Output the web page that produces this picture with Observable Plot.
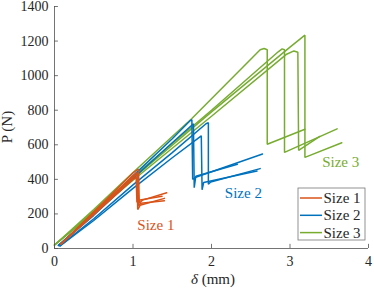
<!DOCTYPE html>
<html><head><meta charset="utf-8">
<script src="https://cdn.jsdelivr.net/npm/d3@7"></script>
<script src="https://cdn.jsdelivr.net/npm/@observablehq/plot@0.6"></script>
<style>
body{margin:0;background:#fff}
#chart{position:relative;width:374px;height:292px}
#chart svg text{font-family:"Liberation Serif","Times New Roman",serif !important}
</style>
</head><body><div id="chart"></div>
<script>
const seriesNames = ["Size 1", "Size 2", "Size 3"];
const seriesColors = ["#D95319", "#0072BD", "#77AC30"];
const xTicks = [0, 1, 2, 3, 4];
const yTicks = [0, 200, 400, 600, 800, 1000, 1200, 1400];
const xTitle = ["δ", " (mm)"];
const yTitle = "P (N)";

// Size 1 specimens: [δ (mm), P (N)]
const size1_a = [[0.08,25],[0.5,212],[1.0,437],[1.07,460],[1.08,262],[1.12,280],[1.43,322]];
const size1_b = [[0.08,25],[0.5,205],[1.0,420],[1.05,440],[1.06,225],[1.09,250],[1.40,290]];
const size1_c = [[0.08,25],[0.5,200],[1.0,410],[1.06,430],[1.07,248],[1.10,262],[1.40,276]];
const size1_d = [[0.08,25],[0.5,195],[1.0,400],[1.04,412],[1.05,268],[1.09,280],[1.37,302]];
// Size 2 specimens
const size2_a = [[0.05,18],[0.5,200],[1.0,420],[1.5,635],[1.73,740],[1.75,745],[1.76,400],[1.80,412],[2.65,547]];
const size2_b = [[0.05,18],[0.5,192],[1.0,405],[1.5,612],[1.77,722],[1.78,352],[1.80,418],[2.33,487]];
const size2_c = [[0.07,15],[0.5,172],[1.0,368],[1.5,555],[1.93,722],[1.96,728],[1.96,372],[1.99,385],[2.62,462]];
const size2_d = [[0.07,15],[0.5,162],[1.0,348],[1.5,525],[1.87,652],[1.88,340],[1.90,382],[2.58,448]];
// Size 3 specimens
const size3_a = [[0,20],[0.5,225],[1.0,440],[1.75,752],[2.62,1150],[2.67,1157],[2.71,1150],[2.71,603],[3.19,690]];
const size3_b = [[0,20],[0.5,215],[1.0,415],[2.0,800],[2.85,1138],[2.90,1155],[2.93,1150],[2.93,556],[3.60,692]];
const size3_c = [[0,20],[0.5,205],[1.0,395],[2.0,765],[2.95,1122],[3.05,1143],[3.10,1135],[3.11,568],[3.38,648]];
const size3_d = [[0,20],[0.5,210],[1.0,405],[2.0,790],[3.0,1165],[3.19,1234],[3.19,527],[3.66,612]];

const annotations = [
  {text: "Size 1", x: 1.055, y: 106, size: "Size 1"},
  {text: "Size 2", x: 2.17, y: 294, size: "Size 2"},
  {text: "Size 3", x: 3.41, y: 473, size: "Size 3"}
];

const curves = [
  ["Size 3","3a",size3_a],["Size 3","3b",size3_b],["Size 3","3c",size3_c],["Size 3","3d",size3_d],
  ["Size 2","2a",size2_a],["Size 2","2b",size2_b],["Size 2","2c",size2_c],["Size 2","2d",size2_d],
  ["Size 1","1a",size1_a],["Size 1","1b",size1_b],["Size 1","1c",size1_c],["Size 1","1d",size1_d]
];
const rows = curves.flatMap(([size, id, pts]) => pts.map(([x, y]) => ({x, y, size, id})));

const axisColor = "#505050";
const font = "Liberation Serif, Times New Roman, serif";

const chart = Plot.plot({
  width: 374, height: 292,
  marginLeft: 54, marginRight: 6, marginTop: 6, marginBottom: 44,
  style: {fontFamily: font, fontSize: "14px", color: "#262626", background: "white"},
  x: {domain: [0, 4], label: null},
  y: {domain: [0, 1400], label: null},
  color: {domain: seriesNames, range: seriesColors},
  marks: [
    Plot.axisX(xTicks, {tickSize: 0, tickPadding: 8, fontSize: 14, label: null, tickFormat: d => String(d), fill: "#262626"}),
    Plot.axisY(yTicks, {tickSize: 0, tickPadding: 6, fontSize: 14, label: null, tickFormat: d => String(d), fill: "#262626"}),
    Plot.line(rows, {x: "x", y: "y", z: "id", stroke: "size", strokeWidth: 1.5, strokeLinejoin: "miter"}),
    Plot.ruleX(xTicks, {x: d => d, y1: 0, y2: 24, stroke: axisColor, strokeWidth: 0.8}),
    Plot.ruleY(yTicks, {y: d => d, x1: 0, x2: 0.05, stroke: axisColor, strokeWidth: 0.8}),
    Plot.ruleY([0], {stroke: axisColor, strokeWidth: 0.8}),
    Plot.ruleX([0], {stroke: axisColor, strokeWidth: 0.8}),
    Plot.text(annotations, {x: "x", y: "y", text: "text", fill: "size", textAnchor: "start", lineAnchor: "bottom", fontSize: 15})
  ]
});

const svg = d3.select(chart);
// axis titles
const xt = svg.append("text").attr("x", 213).attr("y", 284).attr("text-anchor", "middle")
  .attr("font-size", 15).attr("fill", "#262626");
xt.append("tspan").attr("font-style", "italic").text(xTitle[0]);
xt.append("tspan").text(xTitle[1]);
svg.append("text").attr("transform", "translate(12,127) rotate(-90)").attr("text-anchor", "middle")
  .attr("font-size", 15).attr("fill", "#262626").text(yTitle);

// legend
const lg = svg.append("g").attr("transform", "translate(298,188)");
lg.append("rect").attr("width", 67).attr("height", 52).attr("fill", "white").attr("stroke", "#777").attr("stroke-width", 0.8);
seriesNames.forEach((name, i) => {
  const yy = 10 + i * 17.3;
  lg.append("line").attr("x1", 2).attr("x2", 24).attr("y1", yy).attr("y2", yy)
    .attr("stroke", seriesColors[i]).attr("stroke-width", 1.5);
  lg.append("text").attr("x", 25.5).attr("y", yy).attr("dy", "0.33em").attr("text-anchor", "start")
    .attr("font-size", 15).attr("fill", "#262626").text(name);
});

document.getElementById("chart").appendChild(chart);
</script>
</body></html>
